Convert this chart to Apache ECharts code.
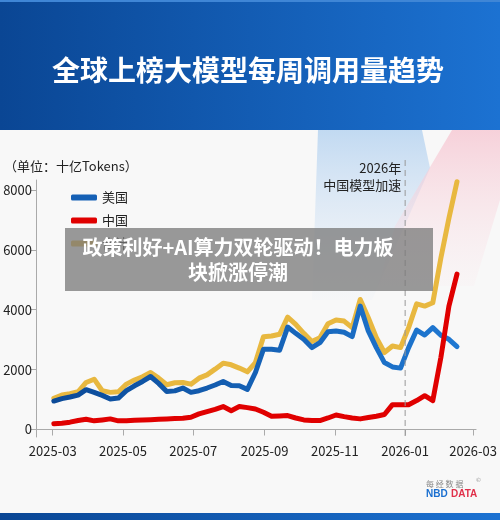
<!DOCTYPE html>
<html>
<head>
<meta charset="utf-8">
<script src="https://cdn.jsdelivr.net/npm/echarts@6/dist/echarts.min.js"></script>
<style>
  html, body { margin: 0; padding: 0; background: #f8f8f8; }
  #chart { width: 500px; height: 520px; }
</style>
</head>
<body>
<div id="chart"></div>
<script>
// 每周日期（起始周）
const startWeek = "2025-03-02";
const weekCount = 51;

// 美国
const usData = [950, 1030, 1085, 1150, 1330, 1240, 1140, 1020, 1050, 1295,
  1460, 1605, 1770, 1540, 1270, 1290, 1385, 1240, 1295, 1385,
  1485, 1605, 1470, 1460, 1340, 1905, 2680, 2680, 2645, 3420,
  3210, 3010, 2735, 2900, 3265, 3290, 3245, 3100, 4120, 3290,
  2735, 2235, 2090, 2050, 2735, 3320, 3155, 3400, 3145, 3010, 2770];
// 中国
const cnData = [190, 210, 245, 300, 345, 290, 320, 355, 290, 290,
  310, 320, 330, 345, 355, 365, 375, 410, 520, 600,
  675, 765, 630, 765, 730, 685, 575, 445, 455, 465,
  385, 320, 300, 300, 385, 485, 430, 385, 355, 400,
  445, 500, 830, 830, 830, 965, 1130, 965, 2400, 4120, 5190];
// 合计
const totalData = [1040, 1150, 1195, 1260, 1570, 1680, 1295, 1240, 1260, 1515,
  1650, 1760, 1905, 1715, 1495, 1560, 1570, 1515, 1715, 1825,
  2015, 2215, 2160, 2050, 1925, 2235, 3100, 3120, 3180, 3750,
  3510, 3210, 2935, 3065, 3530, 3655, 3620, 3400, 4340, 3730,
  3065, 2570, 2790, 2735, 3400, 4195, 4120, 4230, 5720, 7050, 8270];

const tickLabels = ["2025-03", "2025-05", "2025-07", "2025-09", "2025-11", "2026-01", "2026-03"];
const yTicks = [0, 2000, 4000, 6000, 8000];

function toTime(s) {
  const p = s.split("-").map(Number);
  return +new Date(p[0], p[1] - 1, p[2] || 1);
}

const t0 = toTime(startWeek);
const weeks = [];
for (let i = 0; i < weekCount; i++) {
  weeks.push(t0 + i * 7 * 86400000);
}
const tickValues = tickLabels.map(s => toTime(s));

function pair(arr) {
  return arr.map((v, i) => [weeks[i], v]);
}

const font = "'Noto Sans CJK SC', 'Noto Sans', sans-serif";
const chart = echarts.init(document.getElementById("chart"));

const option = {
  backgroundColor: "#f8f8f8",
  animation: false,
  textStyle: { fontFamily: font },
  grid: { left: 36, right: 20, top: 180, bottom: 83 },
  legend: {
    orient: "vertical",
    left: 66,
    top: 186,
    itemWidth: 26,
    itemHeight: 6,
    itemGap: 10,
    icon: "roundRect",
    data: ["美国", "中国", "合计"],
    textStyle: { fontSize: 13, color: "#222", fontFamily: font }
  },
  xAxis: {
    type: "value",
    min: +new Date(2025, 1, 14, 12),
    max: +new Date(2026, 2, 3, 14),
    splitLine: { show: false },
    axisLine: { lineStyle: { color: "#aaa", width: 1 } },
    axisTick: { show: true, length: 6, lineStyle: { color: "#aaa" }, customValues: tickValues },
    axisLabel: {
      customValues: tickValues,
      color: "#222",
      fontSize: 13,
      margin: 8,
      formatter: function (v) {
        const i = tickValues.indexOf(v);
        return i >= 0 ? tickLabels[i] : "";
      }
    }
  },
  yAxis: {
    type: "value",
    min: -250,
    max: 8330,
    splitLine: { show: false },
    axisLine: { show: true, lineStyle: { color: "#aaa", width: 1 } },
    axisTick: { show: true, length: 5, lineStyle: { color: "#aaa" }, customValues: yTicks },
    axisLabel: {
      customValues: yTicks,
      color: "#222",
      fontSize: 13,
      margin: 4,
      formatter: function (v) {
        return String(v);
      }
    }
  },
  series: [
    {
      name: "合计",
      type: "line",
      data: pair(totalData),
      symbol: "none",
      color: "#e8b840",
      lineStyle: { width: 5, color: "#e8b840", cap: "round", join: "round" }
    },
    {
      name: "美国",
      type: "line",
      data: pair(usData),
      symbol: "none",
      color: "#1560b5",
      lineStyle: {
        width: 5,
        cap: "round",
        join: "round",
        color: new echarts.graphic.LinearGradient(0, 0, 1, 0, [
          { offset: 0, color: "#0b4a98" },
          { offset: 1, color: "#1f78d2" }
        ])
      }
    },
    {
      name: "中国",
      type: "line",
      data: pair(cnData),
      symbol: "none",
      color: "#e00000",
      lineStyle: { width: 5, color: "#e00000", cap: "round", join: "round" }
    }
  ]
};
chart.setOption(option);

// 2026年分割线位置
const lineX = chart.convertToPixel({ xAxisIndex: 0 }, toTime("2026-01-01"));

chart.setOption({
  graphic: [
    // 背景光束
    {
      type: "polygon", z: 0, silent: true,
      shape: { points: [[318, 130], [422, 130], [430, 168], [372, 300], [312, 300]] },
      style: {
        fill: new echarts.graphic.LinearGradient(0, 0, 0, 1, [
          { offset: 0, color: "rgba(180,210,240,0.8)" },
          { offset: 1, color: "rgba(220,232,246,0.1)" }
        ])
      }
    },
    {
      type: "polygon", z: 0, silent: true,
      shape: { points: [[452, 130], [500, 130], [500, 200], [474, 286], [378, 286], [395, 226]] },
      style: {
        fill: new echarts.graphic.LinearGradient(0, 0, 0, 1, [
          { offset: 0, color: "rgba(246,196,208,0.75)" },
          { offset: 1, color: "rgba(250,228,233,0.15)" }
        ])
      }
    },
    // 顶部标题栏
    {
      type: "rect", z: 50, silent: true,
      shape: { x: 0, y: 0, width: 500, height: 130 },
      style: {
        fill: new echarts.graphic.LinearGradient(0, 0, 1, 0, [
          { offset: 0, color: "#0a4694" },
          { offset: 1, color: "#1c72d2" }
        ])
      }
    },
    {
      type: "rect", z: 51, silent: true,
      shape: { x: 0, y: 0, width: 500, height: 2 },
      style: { fill: "#3f86d6" }
    },
    {
      type: "text", z: 52, silent: true,
      x: 248, y: 70,
      style: {
        text: "全球上榜大模型每周调用量趋势",
        fill: "#fff",
        font: "bold 28px " + font,
        textAlign: "center",
        textVerticalAlign: "middle"
      }
    },
    // 底部色条
    {
      type: "rect", z: 50, silent: true,
      shape: { x: 0, y: 513, width: 500, height: 7 },
      style: {
        fill: new echarts.graphic.LinearGradient(0, 0, 1, 0, [
          { offset: 0, color: "#0a4694" },
          { offset: 1, color: "#1c72d2" }
        ])
      }
    },
    // 单位
    {
      type: "text", z: 5, silent: true,
      x: 4, y: 166,
      style: {
        text: "（单位：十亿Tokens）",
        fill: "#222",
        font: "13px " + font,
        textAlign: "left",
        textVerticalAlign: "middle"
      }
    },
    // 2026年虚线与注释
    {
      type: "line", z: 5, silent: true,
      shape: { x1: lineX, y1: 160, x2: lineX, y2: 437 },
      style: { stroke: "#999", lineWidth: 1, lineDash: [6, 4] }
    },
    {
      type: "text", z: 5, silent: true,
      x: lineX - 4, y: 168,
      style: {
        text: "2026年",
        fill: "#222",
        font: "13px " + font,
        textAlign: "right",
        textVerticalAlign: "middle"
      }
    },
    {
      type: "text", z: 5, silent: true,
      x: lineX - 4, y: 185,
      style: {
        text: "中国模型加速",
        fill: "#222",
        font: "13px " + font,
        textAlign: "right",
        textVerticalAlign: "middle"
      }
    },
    // 覆盖横幅
    {
      type: "rect", z: 100, silent: true,
      shape: { x: 65, y: 228, width: 368, height: 63 },
      style: { fill: "rgba(120,120,120,0.75)" }
    },
    {
      type: "text", z: 101, silent: true,
      x: 238, y: 247,
      style: {
        text: "政策利好+AI算力双轮驱动！电力板",
        fill: "#fff",
        font: "bold 20px " + font,
        textAlign: "center",
        textVerticalAlign: "middle"
      }
    },
    {
      type: "text", z: 101, silent: true,
      x: 238, y: 272,
      style: {
        text: "块掀涨停潮",
        fill: "#fff",
        font: "bold 20px " + font,
        textAlign: "center",
        textVerticalAlign: "middle"
      }
    },
    // 角标
    {
      type: "text", z: 5, silent: true,
      x: 426, y: 484,
      style: {
        text: "每 经 数 据",
        fill: "#888",
        font: "8px " + font,
        textAlign: "left",
        textVerticalAlign: "middle"
      }
    },
    {
      type: "text", z: 5, silent: true,
      x: 476, y: 480,
      style: { text: "©", fill: "#999", font: "6px " + font, textAlign: "left", textVerticalAlign: "middle" }
    },
    {
      type: "text", z: 5, silent: true,
      x: 426, y: 494,
      style: {
        text: "{a|NBD} {b|DATA}",
        rich: {
          a: { fill: "#1a6fd0", font: "bold 10px 'Liberation Sans', sans-serif" },
          b: { fill: "#e0304a", font: "bold 10px 'Liberation Sans', sans-serif" }
        },
        textAlign: "left",
        textVerticalAlign: "middle"
      }
    }
  ]
});
</script>
</body>
</html>
